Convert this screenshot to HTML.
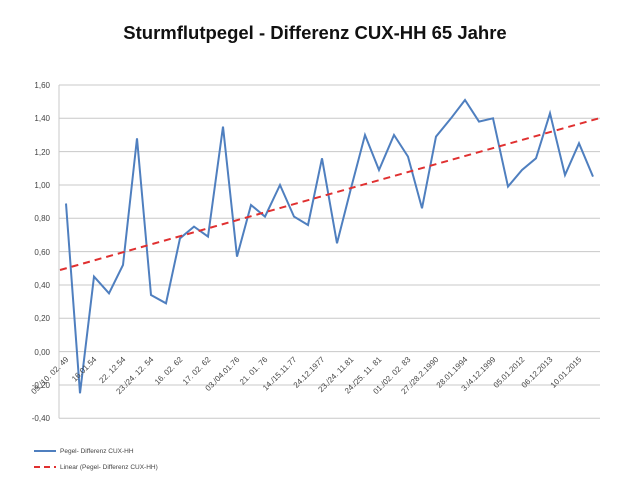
<!DOCTYPE html>
<html><head><meta charset="utf-8"><style>body{margin:0;background:#fff}svg{display:block}</style></head><body>
<svg width="630" height="485" xmlns="http://www.w3.org/2000/svg" font-family="Liberation Sans, sans-serif">
<text x="315" y="39" text-anchor="middle" font-size="18.5" font-weight="bold" fill="#111">Sturmflutpegel - Differenz  CUX-HH 65 Jahre</text>
<g stroke="#c8c8c8" stroke-width="1">
<line x1="59" y1="85" x2="600" y2="85"/><line x1="59" y1="118.3" x2="600" y2="118.3"/><line x1="59" y1="151.6" x2="600" y2="151.6"/><line x1="59" y1="185" x2="600" y2="185"/><line x1="59" y1="218.3" x2="600" y2="218.3"/><line x1="59" y1="251.6" x2="600" y2="251.6"/><line x1="59" y1="285" x2="600" y2="285"/><line x1="59" y1="318.3" x2="600" y2="318.3"/><line x1="59" y1="351.6" x2="600" y2="351.6"/><line x1="59" y1="385" x2="600" y2="385"/><line x1="59" y1="418.3" x2="600" y2="418.3"/>
<line x1="59" y1="85" x2="59" y2="418.3"/>
</g>
<g font-size="8" fill="#444" text-anchor="end">
<text x="50" y="88">1,60</text><text x="50" y="121">1,40</text><text x="50" y="155">1,20</text><text x="50" y="188">1,00</text><text x="50" y="221">0,80</text><text x="50" y="255">0,60</text><text x="50" y="288">0,40</text><text x="50" y="321">0,20</text><text x="50" y="355">0,00</text><text x="50" y="388">-0,20</text><text x="50" y="421">-0,40</text>
</g>
<polyline fill="none" stroke="#4f7fbf" stroke-width="2" points="66,203.5 80,393.3 94,276.6 109,293.3 123,265 137,138.3 151,295 166,303.3 180,238.3 194,226.6 208,236.6 223,126.6 237,256.6 251,205 265,216.6 280,185 294,216.6 308,225 322,158.3 337,243.3 351,188.3 365,135 379,170 394,135 408,156.6 422,208.3 436,136.6 451,118.3 465,100 479,121.6 493,118.3 508,186.6 522,170 536,158.3 550,113.3 565,175 579,143.3 593,176.6"/>
<line x1="60" y1="270" x2="600" y2="118" stroke="#e03030" stroke-width="2" stroke-dasharray="7,5"/>
<g font-size="8" fill="#444" text-anchor="end">
<text transform="translate(69,360) rotate(-45)">09./10. 02. 49</text>
<text transform="translate(97,360) rotate(-45)">16.01.54</text>
<text transform="translate(126,360) rotate(-45)">22. 12.54</text>
<text transform="translate(154,360) rotate(-45)">23./24. 12. 54</text>
<text transform="translate(183,360) rotate(-45)">16. 02. 62</text>
<text transform="translate(211,360) rotate(-45)">17. 02. 62</text>
<text transform="translate(240,360) rotate(-45)">03./04.01.76</text>
<text transform="translate(268,360) rotate(-45)">21. 01. 76</text>
<text transform="translate(297,360) rotate(-45)">14./15.11.77</text>
<text transform="translate(325,360) rotate(-45)">24.12.1977</text>
<text transform="translate(354,360) rotate(-45)">23./24. 11.81</text>
<text transform="translate(382,360) rotate(-45)">24./25. 11. 81</text>
<text transform="translate(411,360) rotate(-45)">01./02. 02. 83</text>
<text transform="translate(439,360) rotate(-45)">27./28.2.1990</text>
<text transform="translate(468,360) rotate(-45)">28.01.1994</text>
<text transform="translate(496,360) rotate(-45)">3./4.12.1999</text>
<text transform="translate(525,360) rotate(-45)">05.01.2012</text>
<text transform="translate(553,360) rotate(-45)">06.12.2013</text>
<text transform="translate(582,360) rotate(-45)">10.01.2015</text>
</g>
<line x1="34" y1="451" x2="56" y2="451" stroke="#4f7fbf" stroke-width="2"/>
<text x="60" y="453" font-size="6.5" fill="#444">Pegel- Differenz  CUX-HH</text>
<line x1="34" y1="467" x2="56" y2="467" stroke="#e03030" stroke-width="2" stroke-dasharray="6,4"/>
<text x="60" y="469" font-size="6.5" fill="#444">Linear (Pegel- Differenz  CUX-HH)</text>
</svg>
</body></html>
